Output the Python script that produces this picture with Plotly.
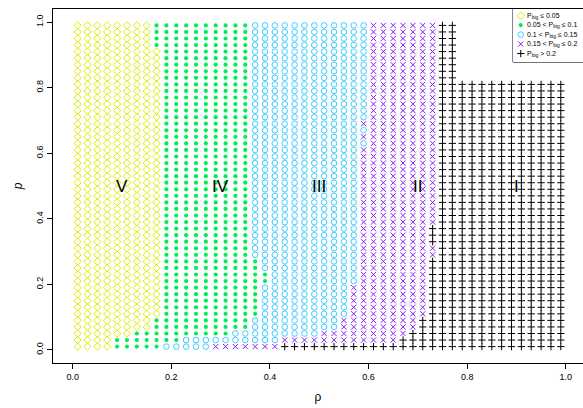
import plotly.graph_objects as go

# ---------------- data ----------------
rho = [0.01, 0.03, 0.05, 0.07, 0.09, 0.11, 0.13, 0.15, 0.17, 0.19,
       0.21, 0.23, 0.25, 0.27, 0.29, 0.31, 0.33, 0.35, 0.37, 0.39,
       0.41, 0.43, 0.45, 0.47, 0.49, 0.51, 0.53, 0.55, 0.57, 0.59,
       0.61, 0.63, 0.65, 0.67, 0.69, 0.71, 0.73, 0.75, 0.77, 0.79,
       0.81, 0.83, 0.85, 0.87, 0.89, 0.91, 0.93, 0.95, 0.97, 0.99]
p = [0.01, 0.03, 0.05, 0.07, 0.09, 0.11, 0.13, 0.15, 0.17, 0.19,
     0.21, 0.23, 0.25, 0.27, 0.29, 0.31, 0.33, 0.35, 0.37, 0.39,
     0.41, 0.43, 0.45, 0.47, 0.49, 0.51, 0.53, 0.55, 0.57, 0.59,
     0.61, 0.63, 0.65, 0.67, 0.69, 0.71, 0.73, 0.75, 0.77, 0.79,
     0.81, 0.83, 0.85, 0.87, 0.89, 0.91, 0.93, 0.95, 0.97, 0.99]

# For every p row (bottom to top): index of the first rho column of each class
start_IV = [4, 4, 6, 8, 8] + [9] * 41 + [8, 8, 8, 8]
start_III = ([9, 11, 16, 18, 18, 19, 19, 19, 19, 19, 20, 20, 19, 19] +
             [18] * 36)
start_II = ([14, 21, 25, 27, 27, 28, 28, 28, 28, 28] + [29] * 21 +
            [30, 29, 30, 29] + [30] * 15)
start_I = ([21, 33, 34, 35, 35] + [36] * 9 + [37, 37] + [36, 36, 36] +
           [37] * 31)
last_col = [49] * 41 + [38] * 9

classes = ["V", "IV", "III", "II", "I"]
legend_text = ["P<sub>big</sub> ≤ 0.05",
               "0.05 < P<sub>big</sub> ≤ 0.1",
               "0.1 < P<sub>big</sub> ≤ 0.15",
               "0.15 < P<sub>big</sub> ≤ 0.2",
               "P<sub>big</sub> > 0.2"]
region_label_rho = [0.1, 0.3, 0.5, 0.7, 0.9]   # same order as classes
region_label_p = 0.5
x_ticks = [0.0, 0.2, 0.4, 0.6, 0.8, 1.0]
y_ticks = [0.0, 0.2, 0.4, 0.6, 0.8, 1.0]

# ---------------- styles ----------------
colors = {"V": "#DDEE00", "IV": "#00EE55", "III": "#40CCFF",
          "II": "#8A1CFF", "I": "#000000"}
symbols = {"V": "diamond-open", "IV": "circle", "III": "circle-open",
           "II": "x-thin-open", "I": "cross-thin-open"}
sizes = {"V": 5.6, "IV": 4.2, "III": 5.6, "II": 5.2, "I": 5.2}


def classify(j, k):
    if k >= start_I[j]:
        return "I"
    if k >= start_II[j]:
        return "II"
    if k >= start_III[j]:
        return "III"
    if k >= start_IV[j]:
        return "IV"
    return "V"


pts = {c: ([], []) for c in classes}
for j, pv in enumerate(p):
    for k in range(last_col[j] + 1):
        c = classify(j, k)
        pts[c][0].append(rho[k])
        pts[c][1].append(pv)

fig = go.Figure()
for c in classes:
    fig.add_trace(go.Scatter(
        x=pts[c][0], y=pts[c][1], mode="markers", showlegend=False,
        hoverinfo="skip",
        marker=dict(symbol=symbols[c], size=sizes[c], color=colors[c],
                    line=dict(width=1 if c != "IV" else 0, color=colors[c]))))

# legend keys on an overlay axis
for i, c in enumerate(classes):
    fig.add_trace(go.Scatter(
        x=[0], y=[i], xaxis="x2", yaxis="y2", mode="markers",
        showlegend=False, hoverinfo="skip",
        marker=dict(symbol=symbols[c], size=sizes[c], color=colors[c],
                    line=dict(width=1 if c != "IV" else 0, color=colors[c]))))
    fig.add_annotation(x=0, y=i, xref="x2", yref="y2", text=legend_text[i],
                       showarrow=False, xanchor="left", xshift=4,
                       font=dict(size=7, color="black"))

for i, name in enumerate(classes):
    fig.add_annotation(x=region_label_rho[i], y=region_label_p,
                       xref="x", yref="y", text=name, showarrow=False,
                       font=dict(size=17, color="black"))

font = "Liberation Sans, Arial, Helvetica, sans-serif"
fig.update_layout(
    width=583, height=408,
    margin=dict(l=53, r=0, t=9, b=45),
    paper_bgcolor="white", plot_bgcolor="white",
    font=dict(family=font, color="black"),
    xaxis=dict(range=[-0.04, 1.035], tickvals=x_ticks,
               ticktext=[f"{v:.1f}" for v in x_ticks],
               ticks="outside", ticklen=5, tickwidth=1, tickcolor="black",
               showline=True, mirror=True, linecolor="black", linewidth=1,
               showgrid=False, zeroline=False, tickfont=dict(size=9),
               title=dict(text="ρ", font=dict(size=12), standoff=11)),
    yaxis=dict(range=[-0.04, 1.04], tickvals=y_ticks,
               ticktext=[f"{v:.1f}" for v in y_ticks],
               ticks="outside", ticklen=5, tickwidth=1, tickcolor="black",
               showline=True, mirror=False, linecolor="black", linewidth=1,
               showgrid=False, zeroline=False, tickfont=dict(size=9),
               tickangle=-90,
               title=dict(text="<i>p</i>", font=dict(size=12), standoff=10)),
    xaxis2=dict(domain=[0.868, 1.0], range=[-7.7, 62.3], anchor="y2",
                visible=False, fixedrange=True),
    yaxis2=dict(domain=[0.85, 1.0], range=[4.9, -0.7], anchor="x2",
                visible=False, fixedrange=True),
    shapes=[dict(type="rect", xref="x2 domain", yref="y2 domain",
                 x0=0, x1=1.2, y0=0, y1=1,
                 line=dict(color="black", width=1), fillcolor="white",
                 layer="below")],
)

fig.write_html("out.html")
